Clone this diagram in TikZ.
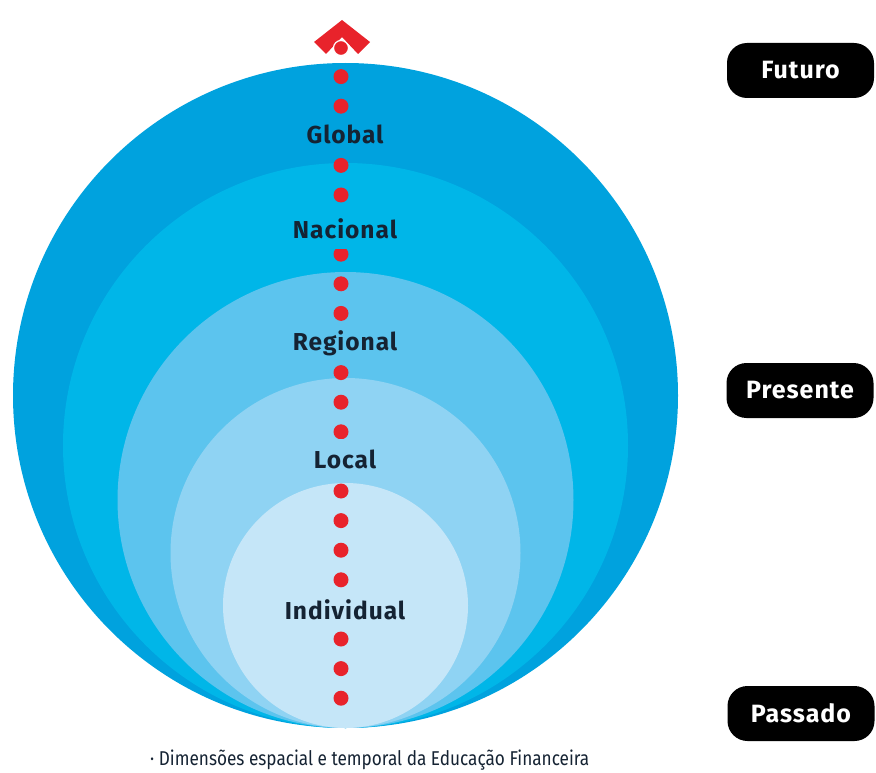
\documentclass[tikz,border=0pt]{standalone}
\usepackage{fontspec}
\setmainfont{Fira Sans}
\definecolor{c1}{HTML}{00A2DE}
\definecolor{c2}{HTML}{00B6E8}
\definecolor{c3}{HTML}{5CC4EE}
\definecolor{c4}{HTML}{8FD3F3}
\definecolor{c5}{HTML}{C5E6F8}
\definecolor{dotred}{HTML}{E8232B}
\definecolor{ink}{HTML}{152333}
\begin{document}
\begin{tikzpicture}[x=1pt,y=-1pt,
  lvl/.style={font=\fontsize{24.5}{28}\selectfont\bfseries\addfontfeatures{LetterSpace=4}, text=ink, inner xsep=3pt, inner ysep=0pt, minimum height=40pt},
  pill/.style={fill=black, rounded corners=20pt, minimum width=147pt, minimum height=55pt, inner sep=0pt, text=white, font=\fontsize{25}{28}\selectfont\bfseries\addfontfeatures{LetterSpace=4}},
  reddot/.style={fill=dotred}]
\useasboundingbox (0,0) rectangle (876,773);
% nested circles tangent at the bottom
\fill[c1] (345.5,395.5) circle (332.5pt);
\fill[c2] (345.5,445.5) circle (282.5pt);
\fill[c3] (345.5,500) circle (228pt);
\fill[c4] (345.5,553) circle (175pt);
\fill[c5] (345.5,605.5) circle (122.5pt);
% red chevron
\fill[dotred] (342,20) -- (370,42) -- (358,54) -- (342,37) -- (326,54) -- (314,42) -- cycle;
% dots
\foreach \i in {1,...,22} {
  \fill[reddot] (341,47+29.6*\i) circle (7.5pt);
}
\filldraw[fill=dotred, draw=white, line width=1.2pt] (341,48) circle (7.5pt);
% labels
\node[lvl, fill=c1] (global) at (345,134) {Global};
\node[lvl, fill=c2] (nacional) at (345,229) {Nacional};
\node[lvl, fill=c3] (regional) at (345,343) {Regional};
\node[lvl, fill=c4] (local) at (345,459) {Local};
\node[lvl, fill=c5] (individual) at (345,610) {Individual};
% time pills
\node[pill] (futuro) at (800.5,70.5) {Futuro};
\node[pill] (presente) at (800,390.5) {Presente};
\node[pill] (passado) at (801,713.5) {Passado};
% caption
\node[font=\fontsize{20}{22}\selectfont\addfontfeatures{FakeStretch=0.86}, text=ink, inner sep=0pt, anchor=base west] (caption) at (150,765) {\textperiodcentered\ Dimensões espacial e temporal da Educação Financeira};
\end{tikzpicture}
\end{document}
